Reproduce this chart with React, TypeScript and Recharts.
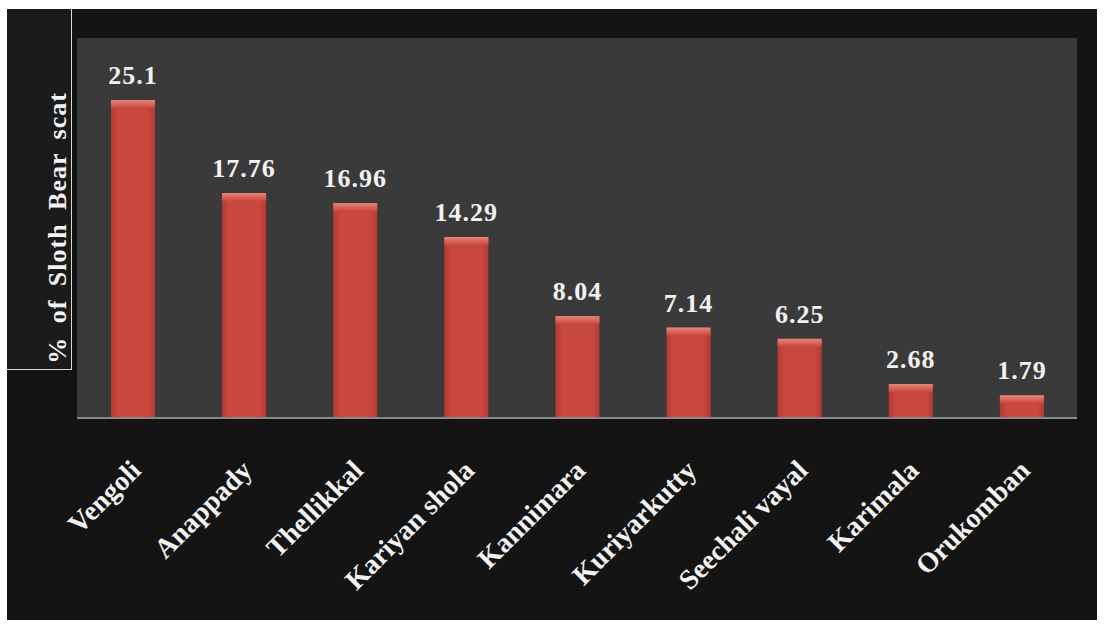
import React from 'react';
import { BarChart, Bar, XAxis, YAxis, CartesianGrid, LabelList } from 'recharts';

const sites = ['Vengoli', 'Anappady', 'Thellikkal', 'Kariyan shola', 'Kannimara', 'Kuriyarkutty', 'Seechali vayal', 'Karimala', 'Orukomban'];
const scatPercent = [25.1, 17.76, 16.96, 14.29, 8.04, 7.14, 6.25, 2.68, 1.79];

const data = sites.map((site, i) => ({ site, value: scatPercent[i] }));

const serif = "'Times New Roman', 'Liberation Serif', Times, serif";

const BevelBar = (props: any) => {
  const { x, y, width, height } = props;
  if (!height || height <= 0) return null;
  const cap = Math.min(8, height);
  return (
    <g>
      <rect x={x} y={y} width={width} height={height} fill="url(#barBody)" />
      <rect x={x} y={y} width={width} height={cap} fill="url(#barCap)" />
    </g>
  );
};

const SiteTick = (props: any) => {
  const { x, y, payload } = props;
  return (
    <g transform={`translate(${x + 10},${y + 46})`}>
      <text
        transform="rotate(-45)"
        textAnchor="end"
        fill="#f2f2f2"
        style={{ fontFamily: serif, fontWeight: 'bold', fontSize: 28 }}
      >
        {payload.value}
      </text>
    </g>
  );
};

export default function App() {
  return (
    <div style={{ position: 'fixed', left: 0, top: 0, width: 1107, height: 629, background: '#fff' }}>
      <div style={{ position: 'absolute', left: 7, top: 9, width: 1090, height: 611, background: '#141414' }} />
      <div
        style={{
          position: 'absolute',
          left: 7,
          top: 9,
          width: 64,
          height: 360,
          background: '#1b1b1b',
          borderRight: '1px solid #d8d8d8',
          borderBottom: '1px solid #d8d8d8',
        }}
      />
      <div style={{ position: 'absolute', left: 0, top: 0 }}>
        <BarChart
          width={1107}
          height={629}
          data={data}
          margin={{ top: 38, right: 30, bottom: 30, left: 77 }}
          barCategoryGap={0}
        >
          <defs>
            <linearGradient id="barBody" x1="0" y1="0" x2="1" y2="0">
              <stop offset="0%" stopColor="#b53a33" />
              <stop offset="15%" stopColor="#c8473f" />
              <stop offset="85%" stopColor="#c8473f" />
              <stop offset="100%" stopColor="#b53a33" />
            </linearGradient>
            <linearGradient id="barCap" x1="0" y1="0" x2="0" y2="1">
              <stop offset="0%" stopColor="#e8867a" />
              <stop offset="100%" stopColor="#c8473f" />
            </linearGradient>
          </defs>
          <CartesianGrid fill="#3a3a3a" horizontal={false} vertical={false} />
          <XAxis
            dataKey="site"
            height={181}
            interval={0}
            tickLine={false}
            axisLine={{ stroke: '#8a8a8a', strokeWidth: 2 }}
            tick={<SiteTick />}
          />
          <YAxis hide domain={[0, 30]} />
          <Bar dataKey="value" barSize={44} shape={<BevelBar />} isAnimationActive={false}>
            <LabelList
              dataKey="value"
              position="top"
              offset={16}
              fill="#f2f2f2"
              style={{ fontFamily: serif, fontWeight: 'bold', fontSize: 26, letterSpacing: 1 }}
            />
          </Bar>
        </BarChart>
      </div>
      <div
        style={{
          position: 'absolute',
          left: 58,
          top: 228,
          transform: 'translate(-50%, -50%) rotate(-90deg)',
          whiteSpace: 'nowrap',
          color: '#f2f2f2',
          fontFamily: serif,
          fontWeight: 'bold',
          fontSize: 26,
          letterSpacing: 1,
          wordSpacing: 6,
        }}
      >
        % of Sloth Bear scat
      </div>
    </div>
  );
}
